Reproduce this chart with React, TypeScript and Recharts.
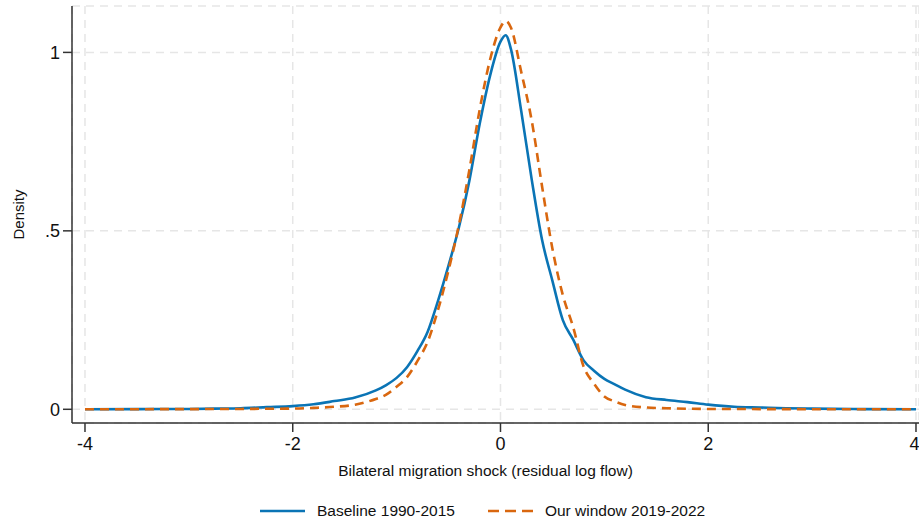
import React from 'react';
import { LineChart, Line, XAxis, YAxis, CartesianGrid } from 'recharts';

const shock = [-4, -3.5, -3, -2.75, -2.5, -2.25, -2, -1.8, -1.6, -1.4, -1.2, -1.1, -1.0, -0.9, -0.8, -0.7, -0.6, -0.5, -0.4, -0.3, -0.2, -0.1, 0, 0.05, 0.1, 0.2, 0.3, 0.4, 0.5, 0.6, 0.7, 0.8, 0.9, 1.0, 1.1, 1.2, 1.4, 1.6, 1.8, 2.0, 2.25, 2.5, 2.75, 3, 3.5, 4];
const baseline = [0.0, 0.0005, 0.001, 0.002, 0.003, 0.006, 0.009, 0.014, 0.023, 0.033, 0.053, 0.068, 0.088, 0.118, 0.163, 0.218, 0.305, 0.403, 0.51, 0.64, 0.8, 0.935, 1.03, 1.048, 1.01, 0.835, 0.645, 0.475, 0.36, 0.25, 0.195, 0.137, 0.108, 0.085, 0.07, 0.055, 0.034, 0.026, 0.02, 0.013, 0.007, 0.005, 0.003, 0.002, 0.0005, 0.0];
const window2 = [0.0, 0.0003, 0.0005, 0.0008, 0.001, 0.0015, 0.002, 0.004, 0.007, 0.013, 0.029, 0.041, 0.063, 0.09, 0.135, 0.19, 0.28, 0.39, 0.517, 0.67, 0.84, 0.98, 1.07, 1.088, 1.07, 0.945, 0.81, 0.625, 0.45, 0.32, 0.23, 0.12, 0.072, 0.036, 0.022, 0.012, 0.005, 0.003, 0.0015, 0.001, 0.0008, 0.0006, 0.0004, 0.0003, 0.0001, 0.0];

const xTicks = [-4, -2, 0, 2, 4];
const yTicks = [0, 0.5, 1];
const yTickLabels = ['0', '.5', '1'];

const seriesNames = ['Baseline 1990-2015', 'Our window 2019-2022'];
const BLUE = '#0a74b5';
const ORANGE = '#d9670f';

const data = shock.map((x, i) => ({ x, base: baseline[i], win: window2[i] }));

const FONT = '"Liberation Sans", Arial, sans-serif';

export default function App() {
  return (
    <div style={{ position: 'absolute', left: 0, top: 0, width: 919, height: 519, background: '#fff', fontFamily: FONT }}>
      <LineChart width={919} height={519} data={data} margin={{ top: 6, right: 0, left: 0, bottom: 66 }}>
        <CartesianGrid stroke="#e6e6e6" strokeWidth={1.5} strokeDasharray="8 6" />
        <XAxis
          dataKey="x"
          type="number"
          domain={[-4.125, 4.029]}
          allowDataOverflow
          ticks={xTicks}
          height={30}
          tickSize={9}
          tickMargin={5}
          tick={{ fontSize: 18, fill: '#111', fontFamily: FONT }}
          stroke="#333"
          strokeWidth={1.5}
          label={(props: any) => {
            const vb = props.viewBox || { x: 72, y: 423, width: 847 };
            return (
              <text x={vb.x + vb.width / 2 - 10} y={476} textAnchor="middle" fontSize={15.5} fill="#111" fontFamily={FONT}>
                Bilateral migration shock (residual log flow)
              </text>
            );
          }}
        />
        <YAxis
          type="number"
          domain={[-0.0384, 1.13]}
          allowDataOverflow
          ticks={yTicks}
          width={72}
          tickSize={9}
          tickMargin={3}
          tickFormatter={(v: number) => yTickLabels[yTicks.indexOf(v)] ?? String(v)}
          tick={{ fontSize: 18, fill: '#111', fontFamily: FONT }}
          stroke="#333"
          strokeWidth={1.5}
          label={(props: any) => {
            const vb = props.viewBox || { x: 0, y: 6, width: 72, height: 417 };
            const cy = vb.y + vb.height / 2;
            return (
              <text x={18} y={cy} transform={`rotate(-90, 18, ${cy})`} textAnchor="middle" dominantBaseline="central" fontSize={15} fill="#111" fontFamily={FONT}>
                Density
              </text>
            );
          }}
        />
        <Line type="monotone" dataKey="base" name={seriesNames[0]} stroke={BLUE} strokeWidth={2.6} dot={false} isAnimationActive={false} />
        <Line type="monotone" dataKey="win" name={seriesNames[1]} stroke={ORANGE} strokeWidth={2.6} strokeDasharray="9 6" dot={false} isAnimationActive={false} />
      </LineChart>
      <div style={{ position: 'absolute', left: 260, top: 501, height: 20, display: 'flex', alignItems: 'center', fontSize: 15.5, color: '#111', whiteSpace: 'nowrap' }}>
        <svg width={45} height={6} style={{ marginRight: 12 }}>
          <line x1={0} y1={3} x2={45} y2={3} stroke={BLUE} strokeWidth={2.6} />
        </svg>
        <span>{seriesNames[0]}</span>
        <svg width={45} height={6} style={{ marginLeft: 33, marginRight: 12 }}>
          <line x1={0} y1={3} x2={45} y2={3} stroke={ORANGE} strokeWidth={2.6} strokeDasharray="11 6" />
        </svg>
        <span>{seriesNames[1]}</span>
      </div>
    </div>
  );
}
